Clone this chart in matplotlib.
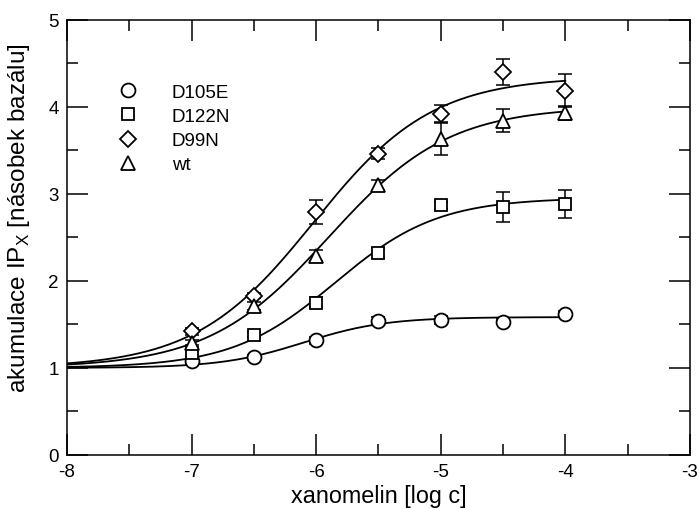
import numpy as np
import matplotlib
matplotlib.use("Agg")
import matplotlib.pyplot as plt
from matplotlib.ticker import MultipleLocator

plt.rcParams['font.family'] = ['Liberation Sans', 'DejaVu Sans']
plt.rcParams['axes.unicode_minus'] = False

# log concentration of xanomeline
logc = [-7.0, -6.5, -6.0, -5.5, -5.0, -4.5, -4.0]

labels = ["D105E", "D122N", "D99N", "wt"]
markers = ["o", "s", "D", "^"]
msizes = [10, 9, 8, 10]

d105e = [1.08, 1.12, 1.32, 1.54, 1.55, 1.53, 1.62]
d105e_err = [0.03, 0.03, 0.04, 0.04, 0.05, 0.03, 0.03]
d122n = [1.17, 1.38, 1.75, 2.32, 2.87, 2.85, 2.88]
d122n_err = [0.03, 0.03, 0.06, 0.06, 0.04, 0.17, 0.16]
d99n = [1.42, 1.83, 2.79, 3.46, 3.92, 4.40, 4.18]
d99n_err = [0.04, 0.03, 0.14, 0.06, 0.10, 0.15, 0.19]
wt = [1.29, 1.71, 2.29, 3.10, 3.63, 3.84, 3.93]
wt_err = [0.03, 0.05, 0.06, 0.06, 0.18, 0.13, 0.08]

series = [d105e, d122n, d99n, wt]
errors = [d105e_err, d122n_err, d99n_err, wt_err]

BASAL = 1.0


def hill(x, top, ec50, n):
    return BASAL + (top - BASAL) / (1.0 + 10 ** ((ec50 - x) * n))


def fit(x, y):
    # grid search on EC50 / slope, top from linear least squares, basal fixed
    x = np.asarray(x)
    y = np.asarray(y) - BASAL
    best = None
    for ec50 in np.arange(-7.5, -4.5, 0.01):
        for n in np.arange(0.5, 1.6, 0.01):
            f = 1.0 / (1.0 + 10 ** ((ec50 - x) * n))
            amp = np.dot(f, y) / np.dot(f, f)
            r = np.sum((amp * f - y) ** 2)
            if best is None or r < best[0]:
                best = (r, amp + BASAL, ec50, n)
    return best[1:]


fig = plt.figure(figsize=(6.99, 5.10), dpi=100)
ax = fig.add_axes([0.0959, 0.1059, 0.8911, 0.8539])

xs = np.linspace(-8, -4, 300)
for y, e, m, ms, lab in zip(series, errors, markers, msizes, labels):
    t, ec, n = fit(logc, y)
    ax.plot(xs, hill(xs, t, ec, n), color="black", lw=1.3, zorder=2)
    ax.errorbar(logc, y, yerr=e, fmt="none", ecolor="black", elinewidth=1.1,
                capsize=5, capthick=1.1, zorder=3)
    ax.plot(logc, y, linestyle="none", marker=m, markersize=ms,
            markerfacecolor="white", markeredgecolor="black",
            markeredgewidth=1.3, label=lab, zorder=4)

ax.set_xlim(-8, -3)
ax.set_ylim(0, 5)
ax.xaxis.set_major_locator(MultipleLocator(1))
ax.xaxis.set_minor_locator(MultipleLocator(0.5))
ax.yaxis.set_major_locator(MultipleLocator(1))
ax.yaxis.set_minor_locator(MultipleLocator(0.5))
ax.tick_params(which="both", direction="in", top=True, right=True,
               width=1.1, labelsize=13.5)
ax.tick_params(which="major", length=15, pad=6)
ax.tick_params(which="minor", length=8)
for s in ax.spines.values():
    s.set_linewidth(1.1)

ax.set_xlabel("xanomelin [log c]", fontsize=16.8, labelpad=3)
ax.set_ylabel("akumulace IP$_\\mathregular{X}$ [násobek bazálu]", fontsize=17.5)
ax.yaxis.set_label_coords(-0.057, 0.545)

ax.legend(loc="upper left", bbox_to_anchor=(0.07, 0.87), frameon=False,
          fontsize=13.5, handlelength=1.0, handletextpad=1.85, labelspacing=0.38,
          borderaxespad=0, numpoints=1)

fig.savefig("out.png", dpi=100)
